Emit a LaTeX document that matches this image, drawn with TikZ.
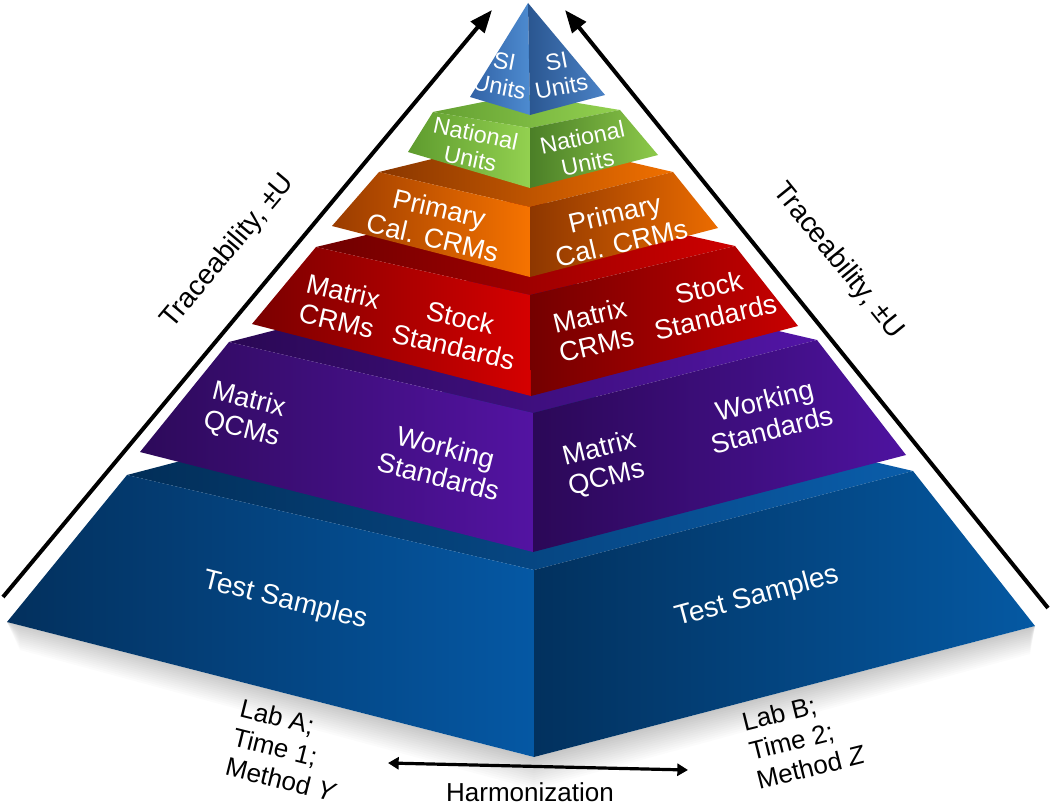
\documentclass[tikz,border=0pt]{standalone}
\usepackage{fontspec}
\setmainfont{Liberation Sans}
\usetikzlibrary{arrows.meta}
\definecolor{bluL1}{HTML}{03305D}\definecolor{bluL2}{HTML}{0558A4}
\definecolor{bluR1}{HTML}{02315E}\definecolor{bluR2}{HTML}{0559A3}
\definecolor{bluT1}{HTML}{022E58}\definecolor{bluT2}{HTML}{0A5DAA}
\definecolor{purL1}{HTML}{2D0A5A}\definecolor{purL2}{HTML}{5313A2}
\definecolor{purR1}{HTML}{2B0857}\definecolor{purR2}{HTML}{4E13A0}
\definecolor{purT1}{HTML}{2A0854}\definecolor{purT2}{HTML}{5215A6}
\definecolor{redL1}{HTML}{7A0000}\definecolor{redL2}{HTML}{D50000}
\definecolor{redR1}{HTML}{740000}\definecolor{redR2}{HTML}{C80000}
\definecolor{redT1}{HTML}{6E0000}\definecolor{redT2}{HTML}{CE0000}
\definecolor{oraL1}{HTML}{9A3C00}\definecolor{oraL2}{HTML}{F67300}
\definecolor{oraR1}{HTML}{8E3700}\definecolor{oraR2}{HTML}{EC6C00}
\definecolor{oraT1}{HTML}{8A3700}\definecolor{oraT2}{HTML}{F07000}
\definecolor{grnL1}{HTML}{5E9B2E}\definecolor{grnL2}{HTML}{93D150}
\definecolor{grnR1}{HTML}{4B7F27}\definecolor{grnR2}{HTML}{8DCA4A}
\definecolor{grnT1}{HTML}{64A032}\definecolor{grnT2}{HTML}{93D150}
\definecolor{siL1}{HTML}{3262A5}\definecolor{siL2}{HTML}{4D8BD0}
\definecolor{siR1}{HTML}{2A5690}\definecolor{siR2}{HTML}{4B82C6}
\begin{document}
\begin{tikzpicture}[x=0.75pt,y=-0.75pt,
  lbl/.style={text=white, align=center, font=\fontsize{20.5}{22.5}\selectfont, inner sep=0pt},
  slbl/.style={text=white, align=center, font=\fontsize{17.5}{19.5}\selectfont, inner sep=0pt},
  blk/.style={text=black, font=\fontsize{19.5}{22.5}\selectfont, inner sep=0pt},
  tracearrow/.style={line width=3pt, -{Triangle[length=17pt,width=13pt]}},
  harmarrow/.style={line width=2.4pt, {Triangle[length=8pt,width=9pt]}-{Triangle[length=8pt,width=9pt]}},
]
\useasboundingbox (0,0) rectangle (1050,806);
\fill[white] (0,0) rectangle (1050,806);

% ---------- soft shadow under the base ----------
\foreach \d in {1,...,14}{
  \fill[black, opacity=0.014] (7,622) -- (534,757) -- (1035,626) -- (1030,{626+2*\d}) -- (534,{757+2.3*\d}) -- (20,{622+2*\d}) -- cycle;
}

% ---------- tier 1: Test Samples (blue) ----------
\coordinate (bL) at (127,475); \coordinate (bF) at (534,570); \coordinate (bR) at (913,471);
\coordinate (bLb) at (7,622); \coordinate (bFb) at (534,757); \coordinate (bRb) at (1035,626);
\coordinate (bB) at (506,376);
\shade[left color=bluT1, right color=bluT2] (bL) -- (bF) -- (bR) -- (bB) -- cycle;
\shade[left color=bluL1, right color=bluL2] (bL) -- (bF) -- (bFb) -- (bLb) -- cycle;
\shade[left color=bluR1, right color=bluR2] (bF) -- (bR) -- (bRb) -- (bFb) -- cycle;

% ---------- tier 2: QCMs / Working standards (purple) ----------
\coordinate (pL) at (229,342); \coordinate (pF) at (533,413); \coordinate (pR) at (817,340);
\coordinate (pLb) at (140,452); \coordinate (pFb) at (533,552); \coordinate (pRb) at (906,455);
\coordinate (pB) at (513,269);
\shade[left color=purT1, right color=purT2] (pL) -- (pF) -- (pR) -- (pB) -- cycle;
\shade[left color=purL1, right color=purL2] (pL) -- (pF) -- (pFb) -- (pLb) -- cycle;
\shade[left color=purR1, right color=purR2] (pF) -- (pR) -- (pRb) -- (pFb) -- cycle;

% ---------- tier 3: CRMs / Stock standards (red) ----------
\coordinate (rL) at (316,247); \coordinate (rF) at (530,295); \coordinate (rR) at (735,246);
\coordinate (rLb) at (252,324); \coordinate (rFb) at (531,396); \coordinate (rRb) at (798,326);
\coordinate (rB) at (521,198);
\shade[left color=redT1, right color=redT2] (rL) -- (rF) -- (rR) -- (rB) -- cycle;
\shade[left color=redL1, right color=redL2] (rL) -- (rF) -- (rFb) -- (rLb) -- cycle;
\shade[left color=redR1, right color=redR2] (rF) -- (rR) -- (rRb) -- (rFb) -- cycle;

% ---------- tier 4: Primary Cal. CRMs (orange) ----------
\coordinate (oL) at (379,172); \coordinate (oF) at (530,207); \coordinate (oR) at (673,172);
\coordinate (oLb) at (332,226); \coordinate (oFb) at (530,277); \coordinate (oRb) at (718,228);
\coordinate (oB) at (522,137);
\shade[left color=oraT1, right color=oraT2] (oL) -- (oF) -- (oR) -- (oB) -- cycle;
\shade[left color=oraL1, right color=oraL2] (oL) -- (oF) -- (oFb) -- (oLb) -- cycle;
\shade[left color=oraR1, right color=oraR2] (oF) -- (oR) -- (oRb) -- (oFb) -- cycle;

% ---------- tier 5: National Units (green) ----------
\coordinate (gL) at (433,112); \coordinate (gF) at (530,128); \coordinate (gR) at (620,110);
\coordinate (gLb) at (408,152); \coordinate (gFb) at (530,188); \coordinate (gRb) at (658,155);
\coordinate (gB) at (523,94);
\shade[left color=grnT1, right color=grnT2] (gL) -- (gF) -- (gR) -- (gB) -- cycle;
\shade[left color=grnL1, right color=grnL2] (gL) -- (gF) -- (gFb) -- (gLb) -- cycle;
\shade[left color=grnR1, right color=grnR2] (gF) -- (gR) -- (gRb) -- (gFb) -- cycle;

% ---------- tier 6: SI Units (pyramid top) ----------
\coordinate (sA) at (528,3); \coordinate (sL) at (470,97); \coordinate (sF) at (530,115); \coordinate (sR) at (605,95);
\shade[left color=siL1, right color=siL2] (sA) -- (sL) -- (sF) -- cycle;
\shade[left color=siR1, right color=siR2] (sA) -- (sF) -- (sR) -- cycle;

% ---------- face labels ----------
\node[slbl, rotate=-11] (siLt) at (502,74) {SI\\Units};
\node[slbl, rotate=11] (siRt) at (559,74) {SI\\Units};
\node[slbl, rotate=-12] (natLt) at (473,146) {National\\Units};
\node[slbl, rotate=12] (natRt) at (585,150) {National\\Units};
\node[lbl, rotate=-13] (priLt) at (436,223) {Primary\\Cal. CRMs};
\node[lbl, rotate=13] (priRt) at (618,228) {Primary\\Cal. CRMs};
\node[lbl, rotate=-13] (mcrmLt) at (340,306) {Matrix\\CRMs};
\node[lbl, rotate=-13] (stkLt) at (457,332) {Stock\\Standards};
\node[lbl, rotate=13] (mcrmRt) at (593,330) {Matrix\\CRMs};
\node[lbl, rotate=13] (stkRt) at (712,302) {Stock\\Standards};
\node[lbl, rotate=-14] (qcmLt) at (245,415) {Matrix\\QCMs};
\node[lbl, rotate=-14] (wrkLt) at (442,462) {Working\\Standards};
\node[lbl, rotate=14] (qcmRt) at (603,464) {Matrix\\QCMs};
\node[lbl, rotate=14] (wrkRt) at (768,415) {Working\\Standards};
\node[lbl, rotate=-14, font=\fontsize{21}{23}\selectfont] (tsLt) at (285,601) {Test Samples};
\node[lbl, rotate=15, font=\fontsize{21}{23}\selectfont] (tsRt) at (757,597) {Test Samples};

% ---------- traceability arrows ----------
\coordinate (trLs) at (3,597); \coordinate (trLe) at (492,10);
\coordinate (trRs) at (1048,608); \coordinate (trRe) at (565,10);
\draw[tracearrow] (trLs) -- (trLe);
\draw[tracearrow] (trRs) -- (trRe);
\node[blk, rotate=50, font=\fontsize{21}{23}\selectfont] (trL) at (228,252) {Traceability, ±U};
\node[blk, rotate=-51, font=\fontsize{21}{23}\selectfont] (trR) at (838,261) {Traceability, ±U};

% ---------- bottom labels ----------
\node[blk, align=left, rotate=-14, anchor=north west] (labA) at (243,698) {Lab A;\\Time 1;\\Method \textit{Y}};
\node[blk, align=left, rotate=14, anchor=north west] (labB) at (740,713) {Lab B;\\Time 2;\\Method \textit{Z}};
\coordinate (hmL) at (388,763); \coordinate (hmR) at (688,770);
\draw[harmarrow] (hmL) -- (hmR);
\node[blk, anchor=base] (harm) at (530,801) {Harmonization};
\end{tikzpicture}
\end{document}
